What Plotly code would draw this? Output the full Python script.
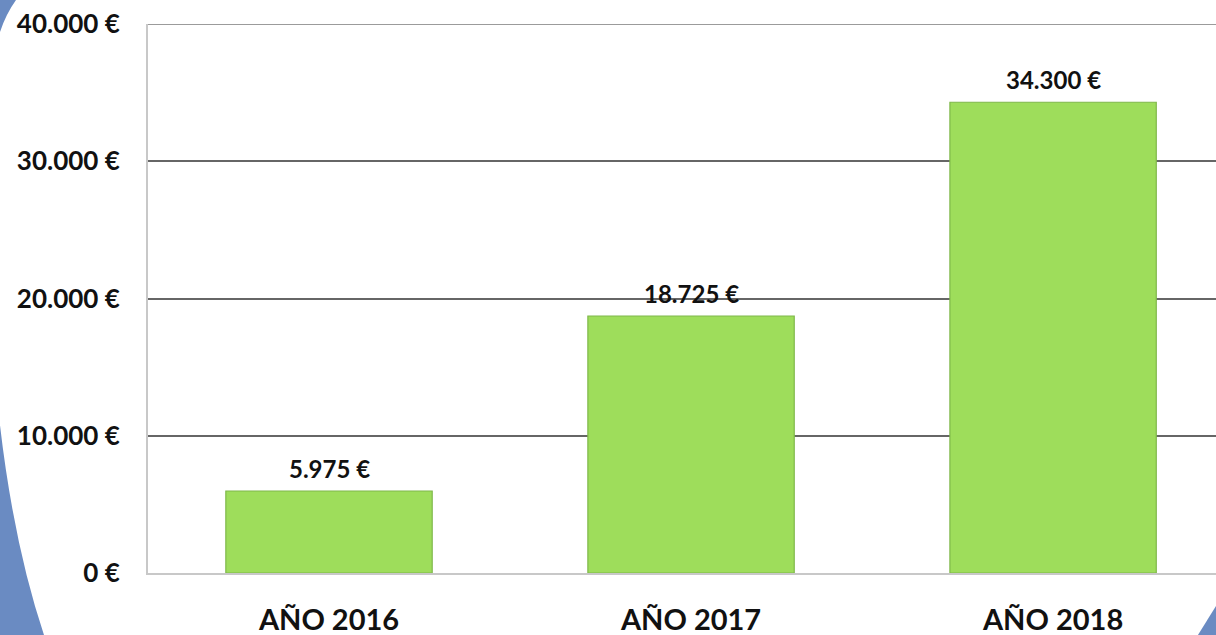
import plotly.graph_objects as go

# dữ liệu
anios = ["AÑO 2016", "AÑO 2017", "AÑO 2018"]
importes = [5975, 18725, 34300]
ticks_y = [0, 10000, 20000, 30000, 40000]
ticks_y_txt = ["0 €", "10.000 €", "20.000 €", "30.000 €", "40.000 €"]

W, H = 1216, 635
L, T, B = 148, 24, 62


def px2paper(x, y):
    # đổi toạ độ pixel sang paper để vẽ phần trang trí viền xanh
    return (x - L) / (W - L), (H - B - y) / (H - T - B)


def path_from_px(cmds):
    parts = []
    for c in cmds:
        if c == "Z":
            parts.append("Z")
            continue
        op, pts = c[0], c[1:]
        coords = []
        for (x, y) in pts:
            px_, py_ = px2paper(x, y)
            coords.append(f"{px_:.4f},{py_:.4f}")
        parts.append(op + " " + " ".join(coords))
    return " ".join(parts)


fig = go.Figure(data=[
    go.Bar(
        x=anios,
        y=importes,
        marker=dict(color="#9edd5b", line=dict(color="#7fb84a", width=1.2)),
        width=0.57,
        hoverinfo="skip",
    )
])

for a, v in zip(anios, importes):
    fig.add_annotation(
        x=a, y=v, xref="x", yref="y",
        text=f"{v:,.0f} €".replace(",", "."),
        showarrow=False, yanchor="bottom", yshift=6,
        font=dict(family="Lato", size=24, color="#111111", weight="bold"),
    )

# đường lưới trên cùng (plotly ẩn lưới trùng mép trên)
fig.add_shape(
    type="line", xref="paper", yref="y",
    x0=0, x1=1, y0=ticks_y[-1], y1=ticks_y[-1],
    line=dict(color="#7a7a7a", width=1.6), layer="below",
)

blue = "#6a8bc2"
decor = [
    ["M", (0, 0)], ["L", (16, 0)], ["Q", (6, 14), (0, 32)], "Z",
]
decor2 = [
    ["M", (0, 425)], ["Q", (14, 545), (44, 635)], ["L", (0, 635)], "Z",
]
decor3 = [
    ["M", (1216, 606)], ["L", (1216, 635)], ["L", (1198, 635)], "Z",
]
for d in (decor, decor2, decor3):
    fig.add_shape(
        type="path", xref="paper", yref="paper",
        path=path_from_px(d),
        fillcolor=blue, line=dict(width=0), layer="above",
    )

fig.update_layout(
    width=W, height=H,
    margin=dict(l=L, r=0, t=T, b=B, autoexpand=False),
    paper_bgcolor="white",
    plot_bgcolor="white",
    showlegend=False,
    font=dict(family="Lato", size=19, color="#111111"),
    xaxis=dict(
        range=[-0.5, 2.45],
        showgrid=False,
        showline=True, linecolor="#c8c8c8", linewidth=2,
        ticks="", ticklabelstandoff=20,
        tickfont=dict(family="Lato", size=29, color="#111111", weight="bold"),
        automargin=False,
        fixedrange=True,
    ),
    yaxis=dict(
        range=[0, 40000],
        tickvals=ticks_y,
        ticktext=ticks_y_txt,
        showgrid=True, gridcolor="#666666", gridwidth=1.5,
        zeroline=False,
        showline=True, linecolor="#c8c8c8", linewidth=2,
        ticks="", ticklabelstandoff=21,
        tickfont=dict(family="Lato", size=26, color="#111111", weight="bold"),
        automargin=False,
        fixedrange=True,
    ),
)

# bỏ lề mặc định của trang để hình khớp đúng cửa sổ
fig.write_html(
    "out.html",
    config={"displayModeBar": False},
    post_script="document.body.style.margin='0';document.body.style.overflow='hidden';",
)
